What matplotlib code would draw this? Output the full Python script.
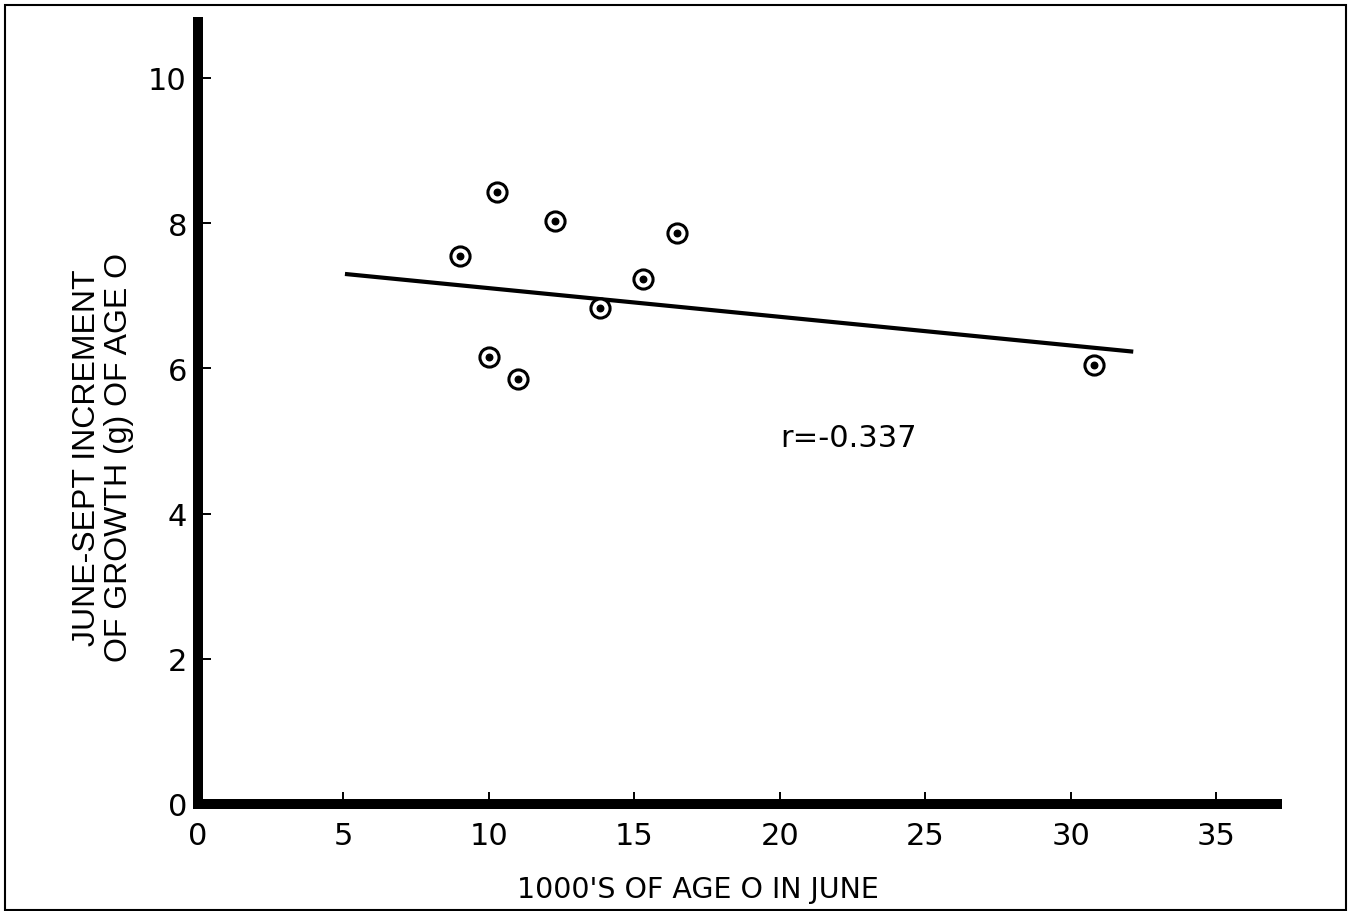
import matplotlib
matplotlib.use("Agg")
import matplotlib.pyplot as plt
from matplotlib.patches import Rectangle

# Data
x_vals = [9.0, 10.26, 12.28, 16.45, 15.28, 13.81, 10.01, 11.01, 30.8]
y_vals = [7.55, 8.43, 8.03, 7.86, 7.23, 6.83, 6.15, 5.85, 6.05]
fit_x = [5.05, 32.14]
fit_y = [7.30, 6.23]
x_ticks = [0, 5, 10, 15, 20, 25, 30, 35]
y_ticks = [0, 2, 4, 6, 8, 10]
r_label = "r=-0.337"
x_label = "1000'S OF AGE O IN JUNE"
y_label = "JUNE-SEPT INCREMENT\nOF GROWTH (g) OF AGE O"

W, H = 1348, 912
fig = plt.figure(figsize=(W / 100, H / 100), dpi=100)
fig.patch.set_facecolor("white")

# axes placement (pixels -> figure fraction)
left_px, right_px, top_px, bot_px = 198, 1277, 23, 805
ax = fig.add_axes([left_px / W, (H - bot_px) / H,
                   (right_px - left_px) / W, (bot_px - top_px) / H])
ax.set_xlim(0, 37.08)
ax.set_ylim(0, 10.77)

for s in ["top", "right"]:
    ax.spines[s].set_visible(False)
for s in ["left", "bottom"]:
    ax.spines[s].set_linewidth(7.2)
    ax.spines[s].set_capstyle("projecting")
    ax.spines[s].set_color("black")

tick_font = "DejaVu Sans"
ax.set_xticks(x_ticks)
ax.set_yticks(y_ticks)
ax.set_xticklabels([str(t) for t in x_ticks], fontsize=22, family=tick_font)
ax.set_yticklabels([str(t) for t in y_ticks], fontsize=22, family=tick_font)
ax.tick_params(axis="both", direction="in", length=9, width=1.4, color="black")
ax.tick_params(axis="x", pad=12)
ax.tick_params(axis="y", pad=8)

# regression line
ax.plot(fit_x, fit_y, color="black", lw=3.0, solid_capstyle="butt")

# circled-dot markers
ax.scatter(x_vals, y_vals, s=190, facecolors="white", edgecolors="black",
           linewidths=2.2, zorder=3)
ax.scatter(x_vals, y_vals, s=22, color="black", zorder=4)

ax.text(20.0, 5.05, r_label, fontsize=22, family=tick_font,
        ha="left", va="center")

fig.text(698 / W, (H - 890) / H, x_label, fontsize=20.5, family=tick_font,
         ha="center", va="center")
fig.text(103 / W, (H - 458) / H, y_label, fontsize=23,
         family="Liberation Sans", rotation=90, ha="center", va="center",
         multialignment="center", linespacing=1.12)

# outer frame
fig.patches.append(Rectangle((5 / W, 1 / H), (1346 - 5) / W, (906 - 1) / H,
                             transform=fig.transFigure, fill=False,
                             edgecolor="black", lw=1.5))

fig.savefig("out.png", dpi=100, facecolor="white")
